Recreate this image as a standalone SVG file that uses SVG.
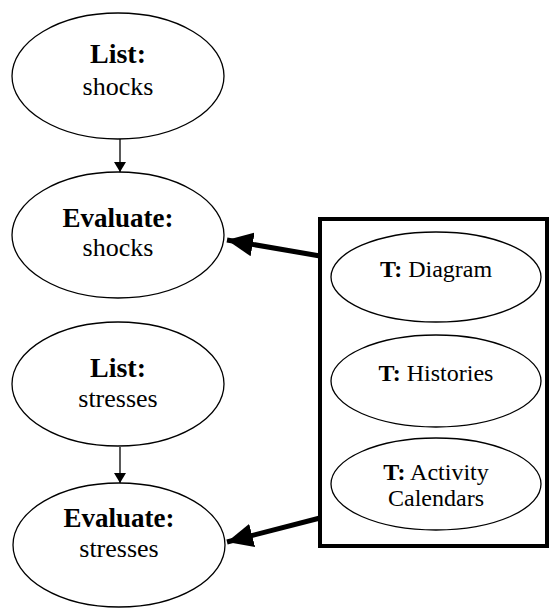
<svg xmlns="http://www.w3.org/2000/svg" width="551" height="609" viewBox="0 0 551 609">
<style>
.n{fill:#fff;stroke:#000;stroke-width:1.3}
.thin{stroke:#000;stroke-width:1.3;fill:none}
.thick{stroke:#000;stroke-width:5;fill:none}
</style>
<defs>
<marker id="ah" markerWidth="10" markerHeight="12" refX="10" refY="6" orient="auto" markerUnits="userSpaceOnUse">
<path d="M0,0 L10,6 L0,12 Z" fill="#000"/>
</marker>
<marker id="ahb" markerWidth="26" markerHeight="24" refX="26" refY="12" orient="auto" markerUnits="userSpaceOnUse">
<path d="M0,0 L26,12 L0,24 Z" fill="#000"/>
</marker>
</defs>
<rect id="toolbox" x="320" y="219" width="227" height="327" fill="#fff" stroke="#000" stroke-width="4"/>
<g font-family="'Liberation Serif', serif" text-anchor="middle" fill="#000">
<g id="list-shocks" font-size="26">
<ellipse class="n" cx="118" cy="76" rx="106" ry="63"/>
<text x="118" y="63" font-weight="bold" font-size="28">List:</text>
<text x="118" y="95">shocks</text>
</g>
<g id="evaluate-shocks" font-size="26">
<ellipse class="n" cx="118" cy="235" rx="106" ry="63"/>
<text x="118" y="227" font-weight="bold" font-size="27">Evaluate:</text>
<text x="118" y="256">shocks</text>
</g>
<g id="list-stresses" font-size="26">
<ellipse class="n" cx="118" cy="384" rx="106" ry="62"/>
<text x="118" y="377" font-weight="bold" font-size="28">List:</text>
<text x="118" y="407">stresses</text>
</g>
<g id="evaluate-stresses" font-size="26">
<ellipse class="n" cx="119" cy="545" rx="106" ry="62"/>
<text x="119" y="527" font-weight="bold" font-size="27">Evaluate:</text>
<text x="119" y="557">stresses</text>
</g>
<g id="t-diagram" font-size="24">
<ellipse class="n" cx="436" cy="277" rx="105" ry="45"/>
<text x="436" y="277"><tspan font-weight="bold">T:</tspan> Diagram</text>
</g>
<g id="t-histories" font-size="24">
<ellipse class="n" cx="436" cy="381" rx="105" ry="46"/>
<text x="436" y="381"><tspan font-weight="bold">T:</tspan> Histories</text>
</g>
<g id="t-activity" font-size="24">
<ellipse class="n" cx="436" cy="484" rx="105" ry="46"/>
<text x="436" y="480"><tspan font-weight="bold">T:</tspan> Activity</text>
<text x="436" y="506">Calendars</text>
</g>
</g>
<g id="connectors">
<line class="thin" x1="120" y1="139" x2="120" y2="172" marker-end="url(#ah)"/>
<line class="thin" x1="120" y1="447" x2="120" y2="483" marker-end="url(#ah)"/>
<line class="thick" x1="320" y1="256" x2="227" y2="240" marker-end="url(#ahb)"/>
<line class="thick" x1="320" y1="518" x2="227" y2="542" marker-end="url(#ahb)"/>
</g>
</svg>
